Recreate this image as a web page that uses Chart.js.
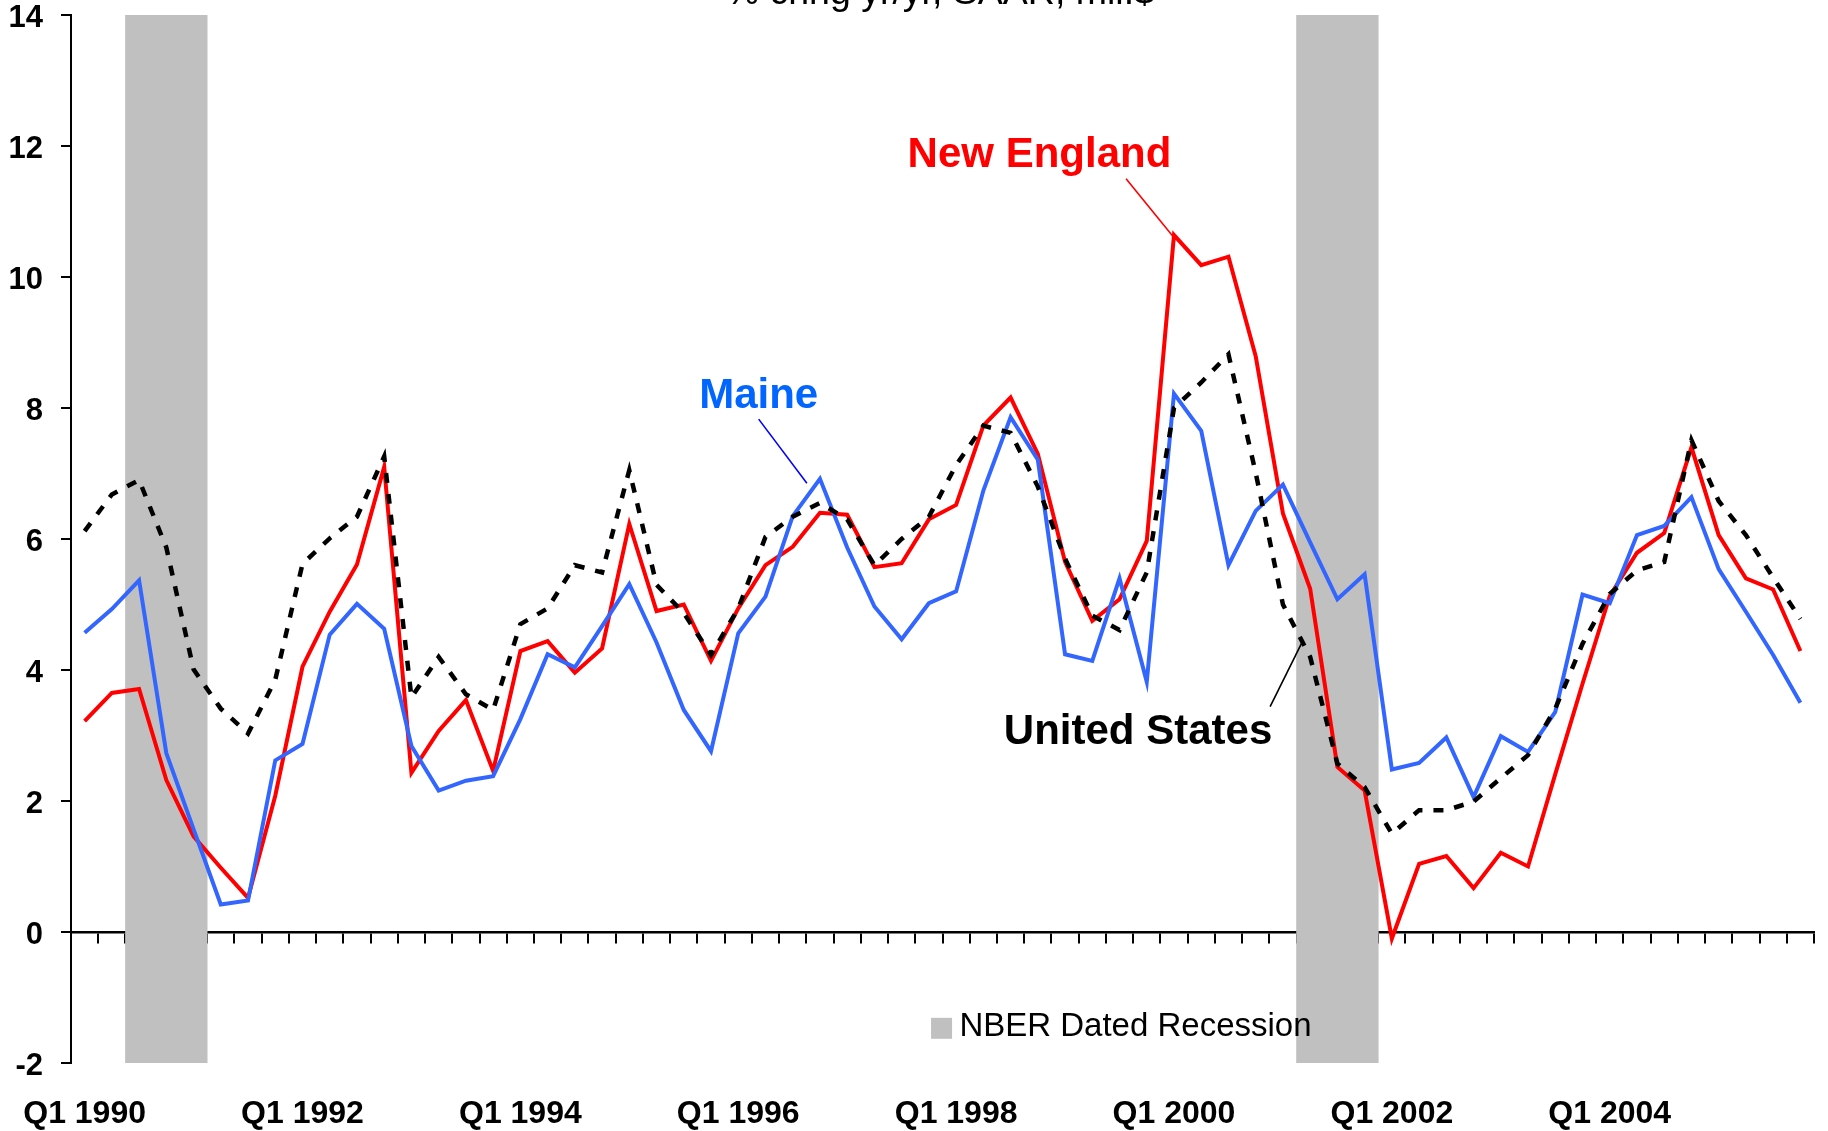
<!DOCTYPE html>
<html>
<head>
<meta charset="utf-8">
<script src="https://cdn.jsdelivr.net/npm/chart.js@4.4.1/dist/chart.umd.min.js"></script>
<style>
html,body{margin:0;padding:0;background:#ffffff;}
#wrap{width:1828px;height:1131px;position:relative;}
</style>
</head>
<body>
<div id="wrap"><canvas id="c" width="1828" height="1131"></canvas></div>
<script>
// ---------- DATA ----------
const years = [1990,1991,1992,1993,1994,1995,1996,1997,1998,1999,2000,2001,2002,2003,2004,2005];
const quarters = ['Q1','Q2','Q3','Q4'];
const categories = [];
years.forEach(y => quarters.forEach(q => categories.push(q + ' ' + y)));

const tickLabels = ['Q1 1990','Q1 1992','Q1 1994','Q1 1996','Q1 1998','Q1 2000','Q1 2002','Q1 2004'];

const recessionQuarters = ['Q3 1990','Q4 1990','Q1 1991','Q2 2001','Q3 2001','Q4 2001'];

const newEngland = [
  3.22, 3.65, 3.71, 2.32, 1.46, 0.98, 0.52, 2.08,
  4.05, 4.89, 5.61, 7.10, 2.43, 3.07, 3.54, 2.46,
  4.29, 4.44, 3.96, 4.33, 6.23, 4.90, 5.00, 4.14,
  4.94, 5.60, 5.88, 6.40, 6.37, 5.57, 5.63, 6.30,
  6.52, 7.73, 8.16, 7.30, 5.65, 4.75, 5.08, 5.97,
  10.64, 10.18, 10.31, 8.79, 6.39, 5.24, 2.52, 2.16,
  -0.10, 1.04, 1.16, 0.67, 1.21, 1.00, 2.41, 3.79,
  5.13, 5.79, 6.09, 7.40, 6.06, 5.40, 5.23, 4.29
];

const maine = [
  4.57, 4.93, 5.37, 2.73, 1.57, 0.42, 0.48, 2.62,
  2.87, 4.54, 5.01, 4.63, 2.84, 2.16, 2.31, 2.38,
  3.25, 4.24, 4.04, 4.67, 5.31, 4.42, 3.39, 2.76,
  4.56, 5.12, 6.35, 6.92, 5.87, 4.97, 4.47, 5.02,
  5.20, 6.74, 7.86, 7.21, 4.24, 4.14, 5.40, 3.82,
  8.22, 7.65, 5.60, 6.43, 6.83, 5.95, 5.08, 5.46,
  2.48, 2.58, 2.97, 2.06, 2.99, 2.75, 3.36, 5.15,
  5.02, 6.06, 6.20, 6.64, 5.54, 4.89, 4.23, 3.50
];

const unitedStates = [
  6.12, 6.68, 6.90, 5.87, 4.01, 3.41, 3.03, 3.85,
  5.62, 6.01, 6.34, 7.26, 3.58, 4.20, 3.63, 3.39,
  4.70, 4.94, 5.60, 5.49, 7.05, 5.30, 4.87, 4.23,
  4.94, 6.03, 6.34, 6.55, 6.30, 5.60, 6.00, 6.34,
  7.13, 7.73, 7.62, 6.80, 5.70, 4.83, 4.61, 5.49,
  8.00, 8.39, 8.82, 7.01, 5.00, 4.20, 2.57, 2.21,
  1.50, 1.86, 1.86, 1.99, 2.35, 2.70, 3.41, 4.40,
  5.16, 5.52, 5.65, 7.51, 6.58, 6.06, 5.41, 4.78
];

const yMin = -2, yMax = 14, yStep = 2;
const titleText = '% chng yr/yr, SAAR, mil.$';
const recessionLabel = 'NBER Dated Recession';

// ---------- STYLE ----------
const FONT = '"Liberation Sans", Arial, Helvetica, sans-serif';
const recessionBars = categories.map(c => recessionQuarters.includes(c) ? [yMin, yMax] : null);

// label annotations (position in category-index / value space)
const labelNotes = [
  {text:'New England', color:'#ff0000', x:35.06, y:11.68, lineColor:'#ff0000', from:[38.24,11.50], to:[40.04,10.58]},
  {text:'Maine', color:'#0066ff', x:24.75, y:8.00, lineColor:'#0000ff', from:[24.75,7.83], to:[26.52,6.85]},
  {text:'United States', color:'#000000', x:38.68, y:2.87, lineColor:'#000000', from:[43.53,3.44], to:[44.71,4.43]}
];

const notesPlugin = {
  id: 'notes',
  afterDatasetsDraw(chart) {
    const ctx = chart.ctx;
    const xs = chart.scales.x, ys = chart.scales.y;
    ctx.save();
    labelNotes.forEach(n => {
      ctx.beginPath();
      ctx.strokeStyle = n.lineColor;
      ctx.lineWidth = 1.6;
      ctx.moveTo(xs.getPixelForValue(n.from[0]), ys.getPixelForValue(n.from[1]));
      ctx.lineTo(xs.getPixelForValue(n.to[0]), ys.getPixelForValue(n.to[1]));
      ctx.stroke();
      ctx.font = 'bold 42px ' + FONT;
      ctx.fillStyle = n.color;
      ctx.textAlign = 'center';
      ctx.textBaseline = 'alphabetic';
      ctx.fillText(n.text, xs.getPixelForValue(n.x), ys.getPixelForValue(n.y));
    });
    // legend for recession shading
    const ds = chart.data.datasets.find(d => d.type === 'bar');
    const sx = xs.getPixelForValue(31.08), sy = ys.getPixelForValue(-1.31);
    ctx.fillStyle = ds.backgroundColor;
    ctx.fillRect(sx, sy, 21, 21);
    ctx.font = '33px ' + FONT;
    ctx.fillStyle = '#000000';
    ctx.textAlign = 'left';
    ctx.fillText(ds.label, xs.getPixelForValue(32.12), ys.getPixelForValue(-1.585));
    // title (cut off at the top, as in the original)
    ctx.font = '37.5px ' + FONT;
    ctx.textAlign = 'center';
    ctx.fillText(titleText, xs.getPixelForValue(31.42), ys.getPixelForValue(14.17));
    ctx.restore();
  }
};

new Chart(document.getElementById('c'), {
  type: 'line',
  data: {
    labels: categories,
    datasets: [
      {type:'line', label:'United States', data:unitedStates, borderColor:'#000000', borderWidth:4.5,
       borderDash:[10,11], pointRadius:0, tension:0, fill:false, order:0, xAxisID:'x', yAxisID:'y'},
      {type:'line', label:'Maine', data:maine, borderColor:'#3366ff', borderWidth:4,
       pointRadius:0, tension:0, fill:false, order:1, xAxisID:'x', yAxisID:'y'},
      {type:'line', label:'New England', data:newEngland, borderColor:'#ff0000', borderWidth:4,
       pointRadius:0, tension:0, fill:false, order:2, xAxisID:'x', yAxisID:'y'},
      {type:'bar', label:recessionLabel, data:recessionBars, backgroundColor:'#c0c0c0', borderWidth:0,
       barPercentage:1, categoryPercentage:1, order:10, xAxisID:'x', yAxisID:'y'}
    ]
  },
  options: {
    responsive: false,
    animation: false,
    devicePixelRatio: 1,
    layout: {padding: {top:15, right:14, bottom:0, left:0}},
    plugins: {legend:{display:false}, tooltip:{enabled:false}, title:{display:false}},
    scales: {
      x: {
        type:'category', position:'bottom', offset:true,
        grid:{display:false, drawTicks:false},
        border:{display:false},
        ticks:{
          autoSkip:false, maxRotation:0, minRotation:0, padding:32, color:'#000000',
          font:{family:FONT, size:32, weight:'bold'},
          callback: function(v){ const l = this.getLabelForValue(v); return tickLabels.includes(l) ? l : ''; }
        },
        afterFit(s){ s.height = 68; s.paddingLeft = 0; s.paddingRight = 0; }
      },
      x0: {
        type:'category', axis:'x', position:{y:0}, offset:true,
        grid:{display:true, drawOnChartArea:false, drawTicks:true, tickLength:10, color:'#000000', lineWidth:2, offset:true},
        border:{display:true, color:'#000000', width:2.5},
        ticks:{display:false, autoSkip:false}
      },
      y: {
        type:'linear', position:'left', min:yMin, max:yMax,
        ticks:{
          stepSize:yStep, padding:18, color:'#000000',
          font:{family:FONT, size:31, weight:'bold', lineHeight:0.23},
          // empty first line nudges the number slightly below its tick, as in the original
          callback: v => ['', String(v)]
        },
        grid:{drawOnChartArea:false, drawTicks:true, tickLength:10, color:'#000000', lineWidth:2},
        border:{display:true, color:'#000000', width:2},
        afterFit(s){ s.width = 71; s.paddingTop = 0; s.paddingBottom = 0; }
      }
    }
  },
  plugins: [notesPlugin]
});
</script>
</body>
</html>
